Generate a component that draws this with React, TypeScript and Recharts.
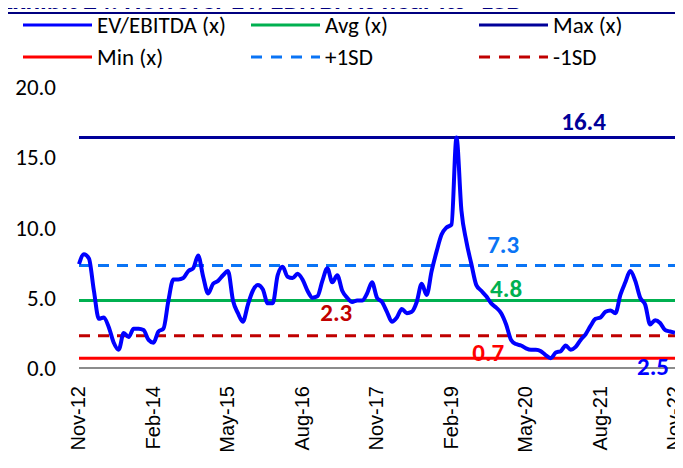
import { LineChart, Line, XAxis, YAxis } from 'recharts';

const titleText = 'Exhibit 24: However EV/EBITDA is near its -1SD';

// monthly EV/EBITDA (x), Nov-12 .. Nov-22
const evEbitda = [
  7.4, 8.1, 7.8, 5.5, 3.5, 3.6, 2.9, 1.8, 1.3, 2.5,
  2.2, 2.8, 2.8, 2.7, 2.0, 1.8, 2.6, 2.8, 4.8, 6.3,
  6.3, 6.4, 6.9, 7.1, 8.0, 6.5, 5.3, 6.0, 6.2, 6.6,
  6.9, 4.8, 3.9, 3.3, 4.5, 5.5, 5.9, 5.6, 4.6, 4.6,
  6.6, 7.2, 6.5, 6.4, 6.7, 6.3, 5.5, 5.0, 5.1, 6.2,
  7.1, 6.1, 6.6, 5.5, 5.0, 4.7, 4.8, 4.8, 5.3, 6.1,
  5.0, 4.7, 4.0, 3.3, 3.6, 4.2, 3.9, 4.0, 4.7, 6.0,
  5.2, 6.9, 8.3, 9.5, 10.0, 10.2, 16.4, 11.2, 9.0, 7.4,
  5.9, 5.5, 5.1, 4.6, 4.3, 3.9, 3.1, 2.0, 1.7, 1.6,
  1.4, 1.3, 1.3, 1.2, 0.9, 0.7, 1.1, 1.2, 1.6, 1.3,
  1.5, 2.0, 2.4, 3.0, 3.5, 3.6, 4.0, 4.1, 3.9, 5.2,
  6.1, 6.9, 6.2, 5.0, 4.5, 3.1, 3.4, 3.2, 2.7, 2.6,
  2.5,
];

const avgValue = 4.8;
const maxValue = 16.4;
const minValue = 0.7;
const plusSdValue = 7.3;
const minusSdValue = 2.3;

const yTicks = [0, 5, 10, 15, 20];
const monthNames = ['Jan', 'Feb', 'Mar', 'Apr', 'May', 'Jun', 'Jul', 'Aug', 'Sep', 'Oct', 'Nov', 'Dec'];
const startYear = 2012;
const startMonth = 10; // Nov

const months = evEbitda.map((_, i) => {
  const m = (startMonth + i) % 12;
  const y = startYear + Math.floor((startMonth + i) / 12);
  return `${monthNames[m]}-${String(y).slice(2)}`;
});

const data = months.map((label, i) => ({
  label,
  ev: evEbitda[i],
  avg: avgValue,
  max: maxValue,
  min: minValue,
  plus: plusSdValue,
  minus: minusSdValue,
}));

const CAL = 'Carlito, Lato, "Open Sans", sans-serif';

const legendItems = [
  { name: 'EV/EBITDA (x)', color: '#0000ff', dash: false },
  { name: 'Avg (x)', color: '#00b050', dash: false },
  { name: 'Max (x)', color: '#000099', dash: false },
  { name: 'Min (x)', color: '#ff0000', dash: false },
  { name: '+1SD', color: '#0a74f5', dash: true },
  { name: '-1SD', color: '#c00000', dash: true },
];

function pointLabel(idx: number, text: string, color: string, dx: number, dy: number) {
  return (props: any) => {
    if (props.index !== idx) return <g />;
    return (
      <text x={props.x + dx} y={props.y + dy} textAnchor="middle" fill={color}
        fontFamily={CAL} fontWeight={700} fontSize={25}>
        {text}
      </text>
    );
  };
}

const XTick = (props: any) => {
  const { x, y, payload } = props;
  return (
    <text transform={`translate(${x + 6},${y + 10}) rotate(-90)`} textAnchor="end"
      fontFamily='"Liberation Sans", Arial, sans-serif' fontSize={20} fill="#000">
      {payload.value}
    </text>
  );
};

export default function App() {
  return (
    <div style={{ position: 'relative', width: 683, height: 468, margin: -8, overflow: 'hidden', background: '#fff' }}>
      <div style={{ position: 'absolute', left: 0, top: -13, fontFamily: CAL, fontWeight: 700, fontSize: 27,
        color: '#000080', whiteSpace: 'nowrap', lineHeight: '26px' }}>
        {titleText}
      </div>
      <div style={{ position: 'absolute', left: 6, right: 0, top: 12, height: 2, background: '#000080' }} />

      {legendItems.map((it, i) => {
        const col = i % 3;
        const row = Math.floor(i / 3);
        const left = [22, 250, 478][col];
        const top = [25, 57][row];
        return (
          <div key={it.name} style={{ position: 'absolute', left, top: top - 14, height: 28, display: 'flex', alignItems: 'center' }}>
            <svg width={72} height={6} style={{ marginRight: 3 }}>
              <line x1={1} y1={3} x2={70} y2={3} stroke={it.color} strokeWidth={3}
                strokeDasharray={it.dash ? '11 9' : undefined} />
            </svg>
            <span style={{ fontFamily: CAL, fontSize: 23, color: '#000', whiteSpace: 'nowrap' }}>{it.name}</span>
          </div>
        );
      })}

      <div style={{ position: 'absolute', left: 0, top: 0 }}>
        <LineChart width={683} height={468} data={data} margin={{ top: 87, right: 8, bottom: 0, left: 8 }}>
          <XAxis dataKey="label" interval={14} tick={<XTick />} tickLine={false}
            axisLine={{ stroke: '#8c8c8c', strokeWidth: 2 }} height={100} />
          <YAxis domain={[0, 20]} ticks={yTicks} width={71} axisLine={false} tickLine={false}
            tickSize={0} tickMargin={23} tickFormatter={(v: number) => v.toFixed(1)}
            tick={{ fontFamily: CAL, fontSize: 23, fill: '#000' }} />
          <Line dataKey="min" stroke="#ff0000" strokeWidth={3} dot={false} isAnimationActive={false}
            label={pointLabel(82, '0.7', '#ff0000', 2, 3)} />
          <Line dataKey="minus" stroke="#c00000" strokeWidth={3} strokeDasharray="11 8" dot={false} isAnimationActive={false}
            label={pointLabel(52, '2.3', '#c00000', -1, -15)} />
          <Line dataKey="avg" stroke="#00b050" strokeWidth={3} dot={false} isAnimationActive={false}
            label={pointLabel(86, '4.8', '#00b050', 0, -4)} />
          <Line dataKey="plus" stroke="#0a74f5" strokeWidth={3} strokeDasharray="11 8" dot={false} isAnimationActive={false}
            label={pointLabel(85, '7.3', '#0a74f5', 2, -12)} />
          <Line dataKey="max" stroke="#000099" strokeWidth={3} dot={false} isAnimationActive={false}
            label={pointLabel(102, '16.4', '#000099', -2, -8)} />
          <Line dataKey="ev" type="monotone" stroke="#0000ff" strokeWidth={4} dot={false} isAnimationActive={false}
            label={pointLabel(120, '2.5', '#0000ff', -22, 42)} />
        </LineChart>
      </div>
    </div>
  );
}
